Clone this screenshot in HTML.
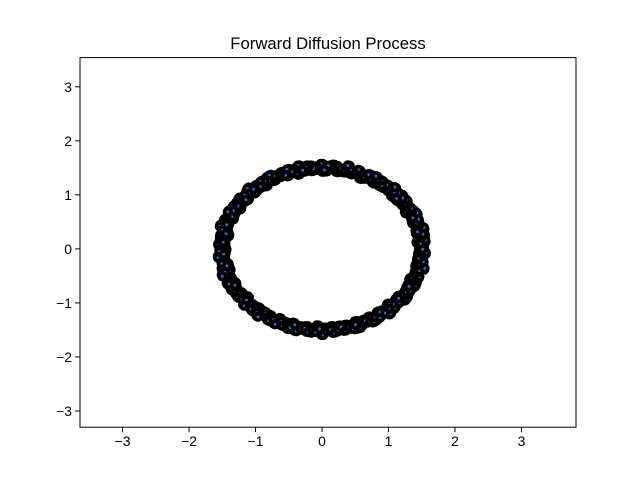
<!DOCTYPE html>
<html><head><meta charset="utf-8"><style>
body{margin:0;background:#fff;}
svg{display:block;font-family:"Liberation Sans","DejaVu Sans",sans-serif;}
</style></head><body>
<svg id="chart" width="640" height="480">
<rect width="640" height="480" fill="#fff"/>
<text x="328" y="49" text-anchor="middle" font-size="16.7">Forward Diffusion Process</text>
<g id="points"></g>
<rect x="80" y="57.6" width="496" height="369.6" fill="none" stroke="#000" stroke-width="1"/>
<g id="xticks"></g>
<g id="yticks"></g>
</svg>
<script>
const xTicks=[-3,-2,-1,0,1,2,3];
const yTicks=[-3,-2,-1,0,1,2,3];
const xDomain=[-3.64,3.82];
const yDomain=[-3.30,3.54];
const radiiA=[1.51,1.47,1.54,1.49,1.52,1.45,1.56,1.50,1.48,1.53,1.46,1.55,1.50,1.52,1.47,1.49,1.54,1.51,1.44,1.53,
1.49,1.56,1.48,1.51,1.46,1.53,1.50,1.55,1.47,1.52,1.45,1.50,1.54,1.48,1.51,1.57,1.46,1.49,1.53,1.50,
1.52,1.44,1.55,1.49,1.47,1.53,1.51,1.46,1.56,1.50,1.48,1.54,1.45,1.52,1.49,1.51,1.55,1.47,1.50,1.53,
1.46,1.52,1.49,1.56,1.48,1.51,1.44,1.54,1.50,1.47,1.53,1.49,1.55,1.46,1.52,1.50,1.48,1.57,1.51,1.45,
1.53,1.49,1.47,1.54,1.50,1.52,1.46,1.55,1.48,1.51,1.44,1.53,1.50,1.56,1.47,1.49,1.52,1.45,1.54,1.51,
1.48,1.53,1.50,1.46,1.55,1.49,1.52,1.47,1.51,1.56,1.45,1.50,1.53,1.48,1.54,1.46,1.52,1.49,1.51,1.44,
1.55,1.50,1.47,1.53,1.49,1.52,1.46,1.57,1.51,1.48,1.54,1.50,1.45,1.53,1.49,1.52,1.47,1.55,1.50,1.46,
1.51,1.54,1.48,1.52,1.44,1.50,1.56,1.49,1.53,1.47,1.51,1.45,1.55,1.50,1.48,1.52,1.46,1.54,1.49,1.51,
1.53,1.47,1.50,1.56,1.48,1.52,1.45,1.51,1.54,1.49];
const radiiB=[1.48,1.53,1.45,1.51,1.56,1.49,1.47,1.54,1.50,1.46,1.52,1.48,1.55,1.44,1.51,1.53,1.47,1.50,1.56,1.49,
1.45,1.52,1.48,1.54,1.50,1.47,1.53,1.46,1.51,1.55,1.49,1.44,1.52,1.50,1.47,1.54,1.48,1.51,1.46,1.56,
1.50,1.53,1.45,1.49,1.52,1.47,1.55,1.48,1.51,1.44,1.53,1.50,1.46,1.54,1.49,1.52,1.47,1.56,1.50,1.45,
1.51,1.48,1.53,1.46,1.55,1.49,1.52,1.47,1.50,1.54,1.45,1.51,1.48,1.53,1.46,1.56,1.50,1.49,1.52,1.47,
1.44,1.54,1.51,1.48,1.53,1.46,1.50,1.55,1.49,1.52,1.47,1.51,1.45,1.53,1.50,1.48,1.56,1.46,1.52,1.49,
1.54,1.47,1.51,1.44,1.53,1.50,1.48,1.55,1.46,1.52,1.49,1.51,1.47,1.54,1.50,1.45,1.53,1.48,1.56,1.46,
1.51,1.49,1.52,1.47,1.55,1.50,1.44,1.53,1.48,1.51,1.46,1.54,1.49,1.52,1.47,1.50,1.56,1.45,1.53,1.48,
1.51,1.46,1.55,1.49,1.52,1.47,1.50,1.54,1.44,1.51,1.48,1.53,1.46,1.56,1.50,1.49,1.52,1.47,1.55,1.45,
1.53,1.50,1.48,1.51,1.46,1.54,1.49,1.52,1.47,1.50];
const NS='http://www.w3.org/2000/svg';
const L=80,R=576,T=57.6,B=427.2;
function sx(v){return L+(v-xDomain[0])/(xDomain[1]-xDomain[0])*(R-L);}
function sy(v){return B-(v-yDomain[0])/(yDomain[1]-yDomain[0])*(B-T);}
const pg=document.getElementById('points');
function drawRing(radii,offset,k){
  radii.forEach((r,i)=>{
    const a=(i*360/radii.length+offset)*Math.PI/180;
    const c=document.createElementNS(NS,'circle');
    c.setAttribute('cx',sx(r*k*Math.cos(a)));
    c.setAttribute('cy',sy(r*k*Math.sin(a)));
    c.setAttribute('r',3.3);
    c.setAttribute('fill','#1f77b4');
    c.setAttribute('stroke','#000');
    c.setAttribute('stroke-width',3.6);
    
    
    pg.appendChild(c);
  });
}
for(let j=0;j<8;j++){
  drawRing(j%2?radiiA:radiiB,j*0.25,0.985+(j%4)*0.01);
}
const xg=document.getElementById('xticks');
xTicks.forEach(v=>{
  const x=sx(v);
  const l=document.createElementNS(NS,'line');
  l.setAttribute('x1',x);l.setAttribute('x2',x);l.setAttribute('y1',B);l.setAttribute('y2',B+4.9);
  l.setAttribute('stroke','#000');
  
  
  xg.appendChild(l);
  const t=document.createElementNS(NS,'text');
  t.setAttribute('x',x);t.setAttribute('y',B+19);t.setAttribute('text-anchor','middle');t.setAttribute('font-size','13.9');
  t.textContent=v<0?'\u2212'+(-v):String(v);
  
  
  xg.appendChild(t);
});
const yg=document.getElementById('yticks');
yTicks.forEach(v=>{
  const y=sy(v);
  const l=document.createElementNS(NS,'line');
  l.setAttribute('x1',L-4.9);l.setAttribute('x2',L);l.setAttribute('y1',y);l.setAttribute('y2',y);
  l.setAttribute('stroke','#000');
  
  
  yg.appendChild(l);
  const t=document.createElementNS(NS,'text');
  t.setAttribute('x',L-8);t.setAttribute('y',y+5);t.setAttribute('text-anchor','end');t.setAttribute('font-size','13.9');
  t.textContent=v<0?'\u2212'+(-v):String(v);
  
  
  yg.appendChild(t);
});
</script>
</body></html>
